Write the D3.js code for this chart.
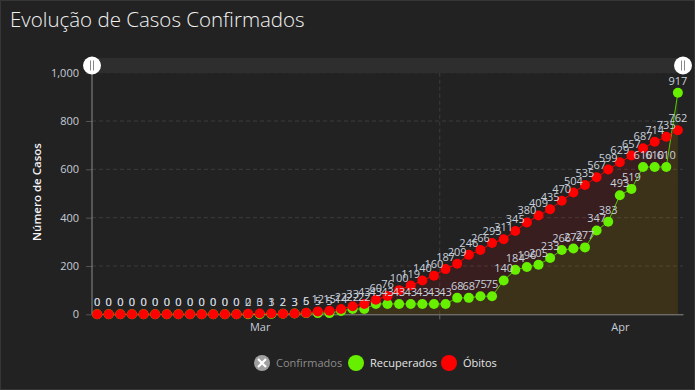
<!DOCTYPE html>
<html>
<head>
<meta charset="utf-8">
<script src="https://cdn.jsdelivr.net/npm/d3@7"></script>
<style>
  html, body { margin: 0; padding: 0; background: #222222; }
  svg { display: block; font-family: "Open Sans", "Noto Sans", sans-serif; }
</style>
</head>
<body>
<svg id="chart" width="695" height="390"></svg>
<script>
// daily values, 16 Feb 2020 .. 6 Apr 2020
var startDate = new Date(2020, 1, 16);
var recuperados = [0, 0, 0, 0, 0, 0, 0, 0, 0, 0, 0, 0, 0,
    0, 0, 1, 2, 3, 5, 5, 5, 14, 22, 22,
    43, 43, 43, 43, 43, 43, 43,
    68, 68, 75, 75, 140, 184, 196, 205, 233, 266, 272, 277, 347, 383, 493, 519, 610, 610, 610, 917];
var obitos = [0, 0, 0, 0, 0, 0, 0, 0, 0, 0, 0, 0, 0,
    2, 3, 3, 2, 3, 6, 12, 15, 22, 33, 43,
    60, 76, 100, 119, 140, 160, 187, 209, 246, 266, 295, 311, 345, 380, 409, 435,
    470, 504, 535, 567, 599, 629, 657, 687, 714, 735, 762];
var yTicks = [0, 200, 400, 600, 800, 1000];
var monthTicks = [new Date(2020, 2, 1), new Date(2020, 3, 1)];
var legendNames = ["Confirmados", "Recuperados", "Óbitos"];

(function () {
    var dates = recuperados.map(function (v, i) { return d3.timeDay.offset(startDate, i); });

    var svg = d3.select("#chart");
    var green = "#66f000", greenLine = "#55cc00", red = "#ff0000";

    svg.append("rect").attr("x", 0.5).attr("y", 0.5).attr("width", 694).attr("height", 389)
        .attr("fill", "#222222").attr("stroke", "#363636");

    svg.append("text").attr("x", 10).attr("y", 27)
        .attr("font-size", 20.5).attr("font-weight", 300).attr("fill", "#f2f2f2")
        .text("Evolução de Casos Confirmados");

    var plotLeft = 92, plotRight = 683, plotTop = 72.7, plotBottom = 314.3;
    var halfDay = 0.44 * 864e5;
    var x = d3.scaleTime()
        .domain([new Date(+dates[0] - halfDay), new Date(+dates[dates.length - 1] + halfDay)])
        .range([plotLeft, plotRight]);
    var y = d3.scaleLinear().domain([0, 1000]).range([plotBottom, plotTop]);

    // grid
    svg.append("g").selectAll("line").data(yTicks.slice(1)).join("line")
        .attr("x1", plotLeft).attr("x2", plotRight)
        .attr("y1", function (d) { return y(d); }).attr("y2", function (d) { return y(d); })
        .attr("stroke", "#3c3c3c").attr("stroke-dasharray", "4,3");
    var midGrid = new Date(2020, 2, 16, 12);
    svg.append("line").attr("x1", x(midGrid)).attr("x2", x(midGrid))
        .attr("y1", plotTop).attr("y2", plotBottom)
        .attr("stroke", "#3c3c3c").attr("stroke-dasharray", "4,3");

    // y axis
    var yAxis = svg.append("g").attr("transform", "translate(" + plotLeft + ",0)")
        .call(d3.axisLeft(y).tickValues(yTicks).tickSize(6).tickPadding(7).tickFormat(d3.format(",")));
    yAxis.select(".domain").remove();
    yAxis.selectAll(".tick line").attr("stroke", "#555");
    yAxis.selectAll(".tick text").attr("fill", "#c4ccd8").attr("font-size", 11)
        .attr("font-family", "'Open Sans', sans-serif");
    svg.append("line").attr("x1", plotLeft).attr("x2", plotLeft).attr("y1", 65).attr("y2", plotBottom)
        .attr("stroke", "#8a8a8a");

    svg.append("text").attr("transform", "translate(41,192) rotate(-90)")
        .attr("text-anchor", "middle").attr("font-size", 11.5).attr("font-weight", 600)
        .attr("fill", "#f4f4f4").text("Número de Casos");

    // x axis
    var xAxis = svg.append("g").attr("transform", "translate(0," + plotBottom + ")")
        .call(d3.axisBottom(x).tickValues(monthTicks).tickSize(0).tickPadding(9)
            .tickFormat(d3.timeFormat("%b")));
    xAxis.select(".domain").attr("stroke", "#8a8a8a");
    xAxis.selectAll(".tick text").attr("fill", "#c4ccd8").attr("font-size", 11)
        .attr("font-family", "'Open Sans', sans-serif");
    svg.append("line").attr("x1", x(midGrid)).attr("x2", x(midGrid))
        .attr("y1", plotBottom).attr("y2", plotBottom + 5).attr("stroke", "#666");

    // areas
    var series = [
        { values: obitos, color: red, line: red },
        { values: recuperados, color: green, line: greenLine }
    ];
    series.forEach(function (s) {
        var area = d3.area()
            .x(function (d, i) { return x(dates[i]); })
            .y0(y(0)).y1(function (d) { return y(d); });
        svg.append("path").attr("d", area(s.values))
            .attr("fill", s.color).attr("fill-opacity", 0.1);
    });
    series.slice().reverse().forEach(function (s) {
        var line = d3.line()
            .x(function (d, i) { return x(dates[i]); })
            .y(function (d) { return y(d); });
        svg.append("path").attr("d", line(s.values))
            .attr("fill", "none").attr("stroke", s.line).attr("stroke-width", 1);
    });

    // markers: green first, red over it
    [series[1], series[0]].forEach(function (s) {
        svg.append("g").selectAll("circle").data(s.values).join("circle")
            .attr("cx", function (d, i) { return x(dates[i]); })
            .attr("cy", function (d) { return y(d); })
            .attr("r", 5).attr("fill", s.color);
    });
    // value labels
    [series[1], series[0]].forEach(function (s) {
        svg.append("g").selectAll("text").data(s.values).join("text")
            .attr("x", function (d, i) { return x(dates[i]); })
            .attr("y", function (d) { return y(d) - 8; })
            .attr("text-anchor", "middle").attr("font-size", 11)
            .attr("fill", "#c9d1dd").text(function (d) { return d; });
    });

    // scrollbar
    svg.append("rect").attr("x", plotLeft).attr("y", 58).attr("width", plotRight - plotLeft).attr("height", 15)
        .attr("fill", "#2e2e2e");
    [plotLeft, plotRight].forEach(function (gx) {
        var g = svg.append("g").attr("transform", "translate(" + gx + ",65.5)");
        g.append("circle").attr("r", 9).attr("fill", "#ffffff");
        g.append("line").attr("x1", -1.5).attr("x2", -1.5).attr("y1", -5).attr("y2", 5).attr("stroke", "#888");
        g.append("line").attr("x1", 1.5).attr("x2", 1.5).attr("y1", -5).attr("y2", 5).attr("stroke", "#888");
    });

    // legend
    var legendX = [262, 356, 449];
    var legendColors = ["#a0a0a0", green, red];
    var lg = svg.append("g").selectAll("g").data(legendNames).join("g")
        .attr("transform", function (d, i) { return "translate(" + legendX[i] + ",363)"; });
    lg.append("circle").attr("r", 8).attr("fill", function (d, i) { return legendColors[i]; });
    lg.filter(function (d, i) { return i === 0; }).append("path")
        .attr("d", "M-4,-4L4,4M4,-4L-4,4").attr("stroke", "#ffffff").attr("stroke-width", 2.2);
    lg.append("text").attr("x", 14).attr("y", 4).attr("font-size", 11)
        .attr("fill", function (d, i) { return i === 0 ? "#8c8c8c" : "#e6e6e6"; })
        .text(function (d) { return d; });
})();
</script>
</body>
</html>
